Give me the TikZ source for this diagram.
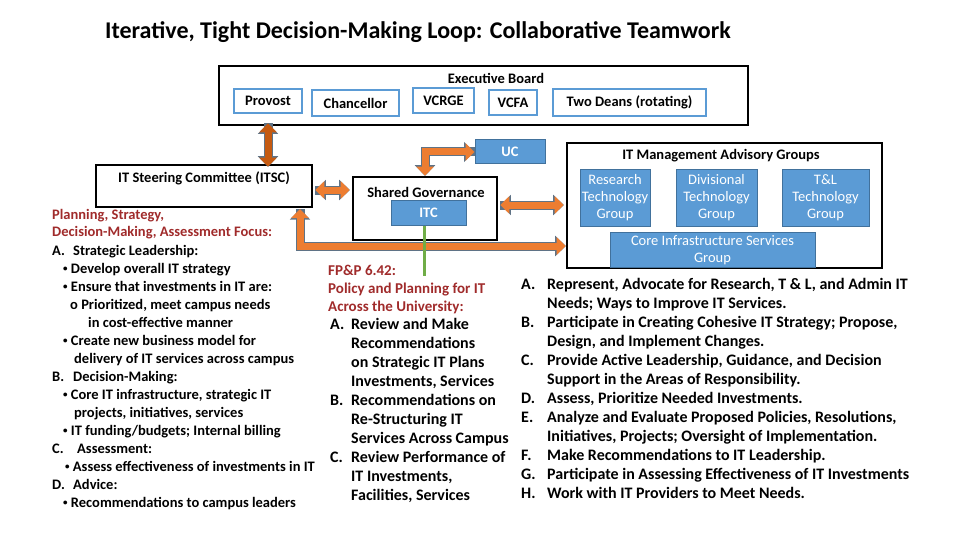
\documentclass[tikz,border=0pt]{standalone}
\usepackage{fontspec}
\setmainfont{Carlito}
\usetikzlibrary{arrows.meta}
\definecolor{boxblue}{HTML}{5B9BD5}
\definecolor{edgeblue}{HTML}{41719C}
\definecolor{arrorange}{HTML}{ED7D31}
\definecolor{arrbrown}{HTML}{C55A11}
\definecolor{arrgray}{HTML}{5F7386}
\definecolor{headred}{HTML}{A02B2B}
\definecolor{lgreen}{HTML}{70AD47}
\newcommand{\lbl}[1]{\makebox[21pt][l]{#1}}
\newcommand{\bul}{\raisebox{1.5pt}{\fontsize{9}{9}\selectfont\textbullet}}
\begin{document}
\begin{tikzpicture}[
        x=1pt, y=-1pt,
        every node/.style={font=\bfseries\fontsize{14.5}{17}\selectfont},
        frame/.style={draw=black, line width=2.6pt, fill=white},
        member/.style={draw=boxblue, line width=2.4pt, fill=white, inner sep=0pt},
        group/.style={draw=edgeblue, line width=1pt, fill=boxblue, text=white, inner sep=0pt, align=center,
            font=\fontsize{14.5}{17}\selectfont},
        fat/.style={line width=7pt, draw=#1, -{Triangle[length=9pt,width=17pt]},
            preaction={draw=arrgray, line width=9pt, -{Triangle[length=10.5pt,width=19.5pt]}}},
        fat/.default=arrorange,
        fatboth/.style={fat=#1, {Triangle[length=9pt,width=17pt]}-{Triangle[length=9pt,width=17pt]},
            preaction={draw=arrgray, line width=9pt, {Triangle[length=10.5pt,width=19.5pt]}-{Triangle[length=10.5pt,width=19.5pt]}}},
        fatboth/.default=arrorange,
        txt/.style={anchor=north west, inner sep=0pt, align=left},
    ]
    \useasboundingbox (0,0) rectangle (960,540);
    \node[anchor=west, inner sep=0pt, font=\bfseries\fontsize{24}{28}\selectfont] (title) at (105,32)
        {Iterative, Tight Decision-Making Loop: Collaborative Teamwork};

    % executive board
    \node[frame, minimum width=529pt, minimum height=59pt] (eb) at (483.5,95.5) {};
    \node (ebl) at (496,78) {Executive Board};
    \node[member, minimum width=68pt, minimum height=24pt] (provost) at (268,101) {Provost};
    \node[member, minimum width=87pt, minimum height=26pt] (chanc) at (355.5,103) {Chancellor};
    \node[member, minimum width=61pt, minimum height=25pt] (vcrge) at (443.5,100.5) {VCRGE};
    \node[member, minimum width=48pt, minimum height=25pt] (vcfa) at (513,102.5) {VCFA};
    \node[member, minimum width=153pt, minimum height=27pt] (deans) at (629.5,102.5) {Two Deans (rotating)};

    % committees
    \node[frame, minimum width=216pt, minimum height=42pt] (itsc) at (204,186) {};
    \node (itscl) at (204,178) {IT Steering Committee (ITSC)};
    \node[group, minimum width=70pt, minimum height=24pt, font=\bfseries\fontsize{14.5}{17}\selectfont] (uc) at (510,152) {UC};
    \node[frame, minimum width=144pt, minimum height=63pt] (sg) at (425,208.5) {};
    \node (sgl) at (426,192) {Shared Governance};
    \node[group, minimum width=75pt, minimum height=25pt, font=\bfseries\fontsize{14.5}{17}\selectfont] (itc) at (428.5,212.5) {ITC};
    \node[frame, minimum width=315pt, minimum height=125pt] (itm) at (724.5,205.5) {};
    \node (itml) at (721,156) {IT Management Advisory Groups};
    \node[group, minimum width=70pt, minimum height=56pt] (rtg) at (615,198) {Research\\Technology\\Group};
    \node[group, minimum width=81pt, minimum height=56pt] (dtg) at (716.5,198) {Divisional\\Technology\\Group};
    \node[group, minimum width=87pt, minimum height=56pt] (tlg) at (825.5,198) {T\&L\\Technology\\Group};
    \node[group, minimum width=205pt, minimum height=35pt] (cis) at (712.5,250) {Core Infrastructure Services\\Group};

    % connectors
    \draw[fatboth=arrbrown] ([yshift=3pt]provost.south |- eb.south) -- ([yshift=-3pt]provost.south |- itsc.north);
    \coordinate (lvl1) at (0,190);
    \coordinate (lvl2) at (0,205);
    \draw[fatboth] ([xshift=2pt]itsc.east |- lvl1) -- ([xshift=-2pt]sg.west |- lvl1);
    \draw[fatboth] ([xshift=2pt]sg.east |- lvl2) -- ([xshift=-2pt]itm.west |- lvl2);
    \draw[fatboth] (uc.west) -| (sg.north);
    \coordinate (elbow) at (300,246);
    \draw[fatboth] (300,209) -- (elbow) -- (elbow -| itm.west);
    \coordinate (gend) at (424,276);
    \draw[lgreen, line width=3pt] (itc.south -| gend) -- (gend);

    % left text
    \node[txt, text=headred, font=\bfseries\fontsize{14.5}{17}\selectfont] (focus) at (52,209)
        {Planning, Strategy,\\Decision-Making, Assessment Focus:};
    \node[txt, font=\bfseries\fontsize{14.5}{18}\selectfont] (itsclist) at (52,245) {%
        \lbl{A.}Strategic Leadership:\\
        \hspace*{11pt}\bul{} Develop overall IT strategy\\
        \hspace*{11pt}\bul{} Ensure that investments in IT are:\\
        \hspace*{18pt}o Prioritized, meet campus needs\\
        \hspace*{36pt}in cost-effective manner\\
        \hspace*{11pt}\bul{} Create new business model for\\
        \hspace*{22pt}delivery of IT services across campus\\
        \lbl{B.}Decision-Making:\\
        \hspace*{11pt}\bul{} Core IT infrastructure, strategic IT\\
        \hspace*{22pt}projects, initiatives, services\\
        \hspace*{11pt}\bul{} IT funding/budgets; Internal billing\\
        \lbl{C.}\hspace*{4pt}Assessment:\\
        \hspace*{13pt}\bul{} Assess effectiveness of investments in IT\\
        \lbl{D.}Advice:\\
        \hspace*{11pt}\bul{} Recommendations to campus leaders};

    % middle text
    \node[txt, text=headred, font=\bfseries\fontsize{15}{18}\selectfont] (fpp) at (328,265)
        {FP\&P 6.42:\\Policy and Planning for IT\\Across the University:};
    \node[txt, font=\bfseries\fontsize{16}{19}\selectfont] (itclist) at (330,318) {%
        \lbl{A.}Review and Make\\
        \hspace*{21pt}Recommendations\\
        \hspace*{21pt}on Strategic IT Plans\\
        \hspace*{21pt}Investments, Services\\
        \lbl{B.}Recommendations on\\
        \hspace*{21pt}Re-Structuring IT\\
        \hspace*{21pt}Services Across Campus\\
        \lbl{C.}Review Performance of\\
        \hspace*{21pt}IT Investments,\\
        \hspace*{21pt}Facilities, Services};

    % right text
    \node[txt, font=\bfseries\fontsize{16}{19}\selectfont] (itmlist) at (521,278) {%
        \makebox[26pt][l]{A.}Represent, Advocate for Research, T \& L, and Admin IT\\
        \hspace*{26pt}Needs; Ways to Improve IT Services.\\
        \makebox[26pt][l]{B.}Participate in Creating Cohesive IT Strategy; Propose,\\
        \hspace*{26pt}Design, and Implement Changes.\\
        \makebox[26pt][l]{C.}Provide Active Leadership, Guidance, and Decision\\
        \hspace*{26pt}Support in the Areas of Responsibility.\\
        \makebox[26pt][l]{D.}Assess, Prioritize Needed Investments.\\
        \makebox[26pt][l]{E.}Analyze and Evaluate Proposed Policies, Resolutions,\\
        \hspace*{26pt}Initiatives, Projects; Oversight of Implementation.\\
        \makebox[26pt][l]{F.}Make Recommendations to IT Leadership.\\
        \makebox[26pt][l]{G.}Participate in Assessing Effectiveness of IT Investments\\
        \makebox[26pt][l]{H.}Work with IT Providers to Meet Needs.};
\end{tikzpicture}
\end{document}
